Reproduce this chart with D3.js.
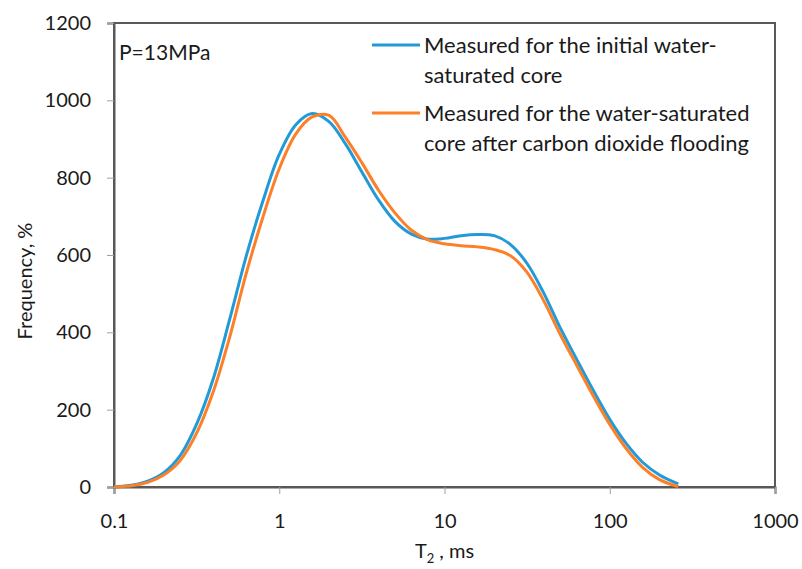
<!DOCTYPE html>
<html>
<head>
<meta charset="utf-8">
<script src="https://cdn.jsdelivr.net/npm/d3@7"></script>
<style>
  body { margin: 0; background: #fff; }
  svg text { font-family: Lato, "Open Sans", sans-serif; fill: #1a1a1a; }
</style>
</head>
<body>
<div id="chart"></div>
<script>
// T2 relaxation times (ms) shared by both curves
const t2 = [0.1, 0.13, 0.16, 0.2, 0.25, 0.32, 0.4, 0.5, 0.63, 0.79, 1.0, 1.26, 1.58, 2.0, 2.51, 3.16,
            3.98, 5.01, 6.31, 7.94, 10, 12.6, 15.8, 20, 25.1, 31.6, 39.8, 50.1, 63.1, 79.4, 100, 126,
            158, 200, 260];
const initialCore = [0, 5, 15, 37, 80, 168, 282, 432, 596, 735, 860, 937, 966, 945, 888, 815,
                     743, 687, 654, 641, 643, 650, 653, 650, 627, 578, 502, 412, 330, 250, 175, 112,
                     64, 31, 8];
const afterCO2 = [0, 4, 12, 31, 67, 144, 248, 386, 551, 693, 823, 913, 957, 961, 905, 839,
                  768, 709, 664, 639, 629, 624, 621, 614, 598, 555, 482, 395, 315, 236, 162, 99,
                  51, 19, 1];
const seriesNames = [
  ["Measured for the initial water-", "saturated core"],
  ["Measured for the water-saturated", "core after carbon dioxide flooding"]
];
const seriesColors = ["#219ad7", "#fd7f27"];
const xTicks = [0.1, 1, 10, 100, 1000];
const yTicks = [0, 200, 400, 600, 800, 1000, 1200];

const width = 802, height = 569;
const margin = { top: 23, right: 27, bottom: 82, left: 114 };

const x = d3.scaleLog()
    .domain([0.1, 1000])
    .range([margin.left, width - margin.right]);

const y = d3.scaleLinear()
    .domain([0, 1200])
    .range([height - margin.bottom, margin.top]);

const svg = d3.select("#chart")
    .append("svg")
    .attr("width", width)
    .attr("height", height);

// frame
svg.append("rect")
    .attr("x", margin.left)
    .attr("y", margin.top)
    .attr("width", width - margin.right - margin.left)
    .attr("height", height - margin.bottom - margin.top)
    .attr("fill", "none")
    .attr("stroke", "#595959")
    .attr("stroke-width", 2);

const xAxis = svg.append("g")
    .attr("transform", `translate(0,${height - margin.bottom})`)
    .call(d3.axisBottom(x).tickValues(xTicks).tickFormat(d3.format("~g")).tickSize(7).tickPadding(20));

const yAxis = svg.append("g")
    .attr("transform", `translate(${margin.left},0)`)
    .call(d3.axisLeft(y).tickValues(yTicks).tickFormat(d3.format("d")).tickSize(7).tickPadding(16));

[xAxis, yAxis].forEach(g => {
    g.select(".domain").attr("stroke", "#595959").attr("stroke-width", 2);
    g.selectAll(".tick line").attr("stroke", "#a0a0a0").attr("stroke-width", 1);
    g.selectAll(".tick text").style("font-size", "20px").attr("fill", "#1a1a1a");
});

const line = d3.line()
    .x(d => x(d[0]))
    .y(d => y(d[1]))
    .curve(d3.curveCatmullRom.alpha(0.5));

[initialCore, afterCO2].forEach((vals, i) => {
    svg.append("path")
        .datum(t2.map((t, j) => [t, vals[j]]))
        .attr("fill", "none")
        .attr("stroke", seriesColors[i])
        .attr("stroke-width", 3)
        .attr("d", line);
});

// legend
const legendTop = [45, 113];
seriesNames.forEach((lines, i) => {
    svg.append("line")
        .attr("x1", 372).attr("x2", 420)
        .attr("y1", legendTop[i]).attr("y2", legendTop[i])
        .attr("stroke", seriesColors[i])
        .attr("stroke-width", 3);
    lines.forEach((s, k) => {
        svg.append("text")
            .attr("x", 424)
            .attr("y", legendTop[i] + 8 + k * 30)
            .style("font-size", "22px")
            .text(s);
    });
});

svg.append("text")
    .attr("x", 119)
    .attr("y", 60)
    .style("font-size", "21px")
    .text("P=13MPa");

// axis titles
const xTitle = svg.append("text")
    .attr("x", (margin.left + width - margin.right) / 2)
    .attr("y", 558)
    .style("font-size", "20px")
    .style("text-anchor", "middle");
xTitle.append("tspan").text("T");
xTitle.append("tspan").attr("dy", 5).style("font-size", "13px").text("2");
xTitle.append("tspan").attr("dy", -5).text(" , ms");

svg.append("text")
    .attr("transform", "translate(32,281) rotate(-90)")
    .style("font-size", "20px")
    .style("text-anchor", "middle")
    .text("Frequency, %");
</script>
</body>
</html>
